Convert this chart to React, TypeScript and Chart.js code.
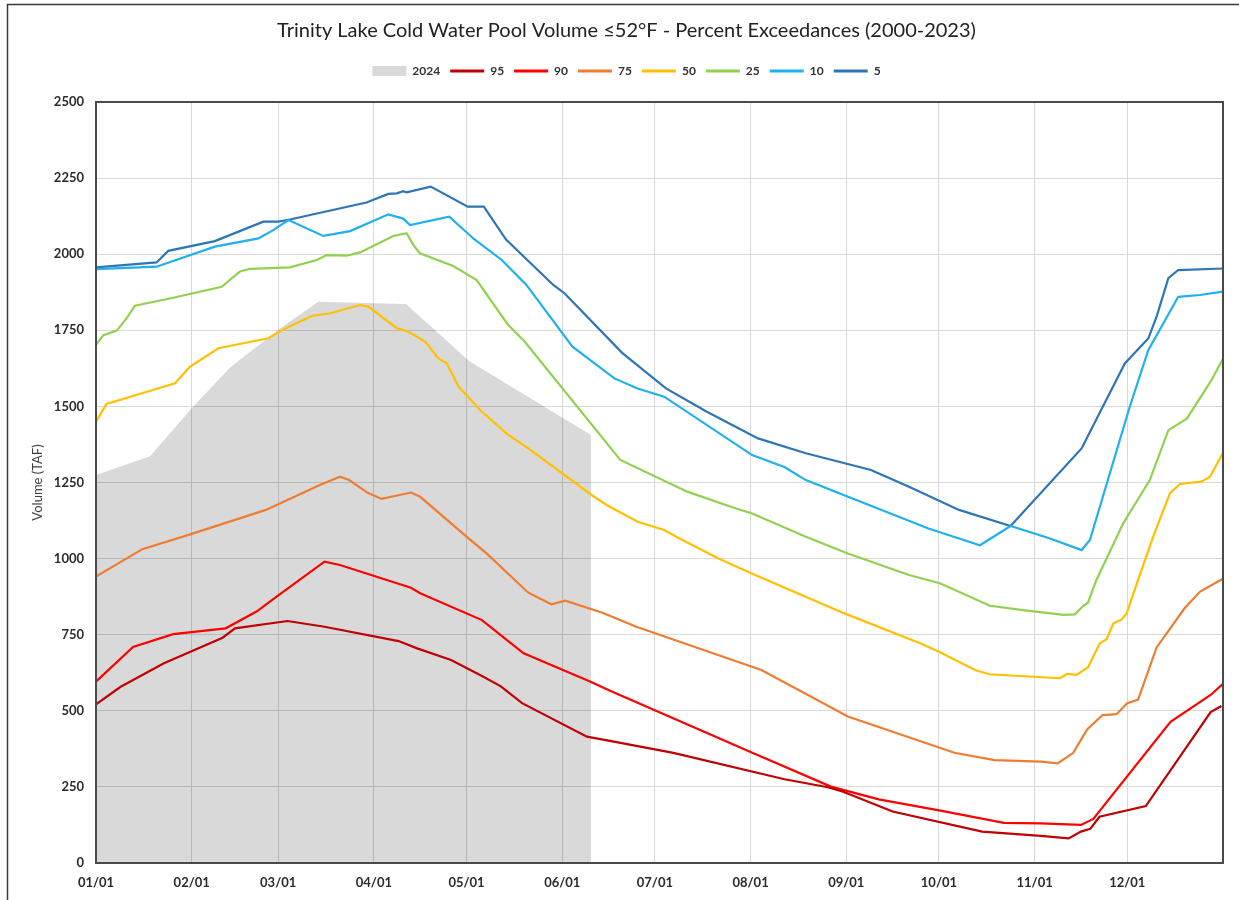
import React, { useEffect, useRef } from 'react';
import { Chart, registerables } from 'chart.js';

Chart.register(...registerables);

// ---- Data (day of year, TAF) ----
const monthStartDays = [0, 31, 59, 90, 120, 151, 181, 212, 243, 273, 304, 334];
const monthLabels = ['01/01', '02/01', '03/01', '04/01', '05/01', '06/01', '07/01', '08/01', '09/01', '10/01', '11/01', '12/01'];

const y2024: [number, number][] = [
  [0, 1275], [17.5, 1336], [31, 1494], [43.4, 1628], [59.6, 1756], [72, 1844], [100.4, 1836],
  [110.3, 1746], [114.6, 1707], [120.7, 1650], [160.3, 1406],
];

const p95: [number, number][] = [
  [0, 521], [8, 579], [22, 656], [41, 740], [45, 771], [62, 795], [74, 776], [98, 729], [104, 705],
  [115, 667], [125, 614], [131, 581], [138, 525], [159, 415], [166, 402], [187, 362], [223, 275],
  [237, 249], [242, 234], [258, 169], [287, 103], [306, 89], [315, 81], [319, 103], [322, 112],
  [325, 152], [340, 187], [361, 496], [364.5, 516],
];

const p90: [number, number][] = [
  [0, 596], [12, 710], [25, 752], [42, 771], [52, 826], [58.5, 875], [74, 990], [79, 979], [102, 904],
  [105, 886], [125, 798], [133, 733], [138.5, 689], [160, 596], [166.5, 566], [212, 365], [238, 251],
  [253.5, 209], [273.5, 172], [294, 132], [306, 130], [319, 125], [323, 145], [348, 464], [361, 552],
  [364.8, 587],
];

const p75: [number, number][] = [
  [0, 941], [15, 1031], [30, 1078], [55, 1160], [72.5, 1242], [79, 1269], [82, 1258], [88, 1216],
  [92.5, 1196], [102, 1217], [105, 1203], [120, 1072], [126.5, 1017], [140, 888], [147.5, 850],
  [152, 862], [164, 822], [175, 776], [215.5, 634], [243.5, 481], [278, 362], [291, 338], [306, 333],
  [311.5, 327], [313, 338], [316.5, 362], [321, 439], [326, 486], [330.5, 489], [334, 525],
  [337.5, 537], [343.5, 708], [352.5, 836], [357.5, 891], [364.8, 933],
];

const p50: [number, number][] = [
  [0, 1450], [3.4, 1508], [25.6, 1576], [30.4, 1630], [39.6, 1691], [55.8, 1724], [60.7, 1753],
  [69.8, 1797], [75.8, 1806], [85.5, 1833], [88.2, 1828], [97.4, 1757], [101.2, 1745], [106.6, 1713],
  [110.9, 1658], [113.6, 1642], [117.4, 1565], [124.7, 1485], [133.6, 1406], [140.7, 1357],
  [160.5, 1209], [165.4, 1176], [175.4, 1121], [184, 1094], [189, 1066], [201.4, 1001], [212.2, 952],
  [242.4, 820], [266.9, 722], [273, 694], [284.7, 634], [289.3, 620], [312.2, 607], [314.5, 621],
  [317.6, 618], [321.3, 643], [325.1, 722], [327.3, 735], [329.5, 787], [332.2, 800], [333.8, 820],
  [337.5, 930], [342.4, 1072], [347.8, 1214], [351, 1245], [358, 1253], [360.8, 1269], [364.9, 1346],
];

const p25: [number, number][] = [
  [0, 1702], [2.4, 1734], [6.7, 1749], [9.9, 1789], [12.6, 1831], [25, 1857], [40.7, 1893],
  [46.6, 1943], [49.9, 1952], [62.8, 1957], [71.5, 1981], [74.7, 1997], [81.2, 1995], [85.5, 2006],
  [96.3, 2060], [100.6, 2069], [102.8, 2030], [104.9, 2003], [115.7, 1961], [123.3, 1915],
  [133.3, 1770], [138.8, 1713], [169.8, 1324], [191.5, 1220], [206.3, 1168], [212.5, 1148],
  [229.9, 1072], [243.5, 1017], [263.3, 946], [273.3, 919], [289.5, 845], [300.3, 831], [313.3, 815],
  [317, 817], [319.8, 845], [321.3, 856], [324, 930], [332.7, 1116], [341.3, 1258], [347.3, 1422],
  [353.3, 1460], [361.3, 1587], [364.9, 1655],
];

const p10: [number, number][] = [
  [0, 1951], [19.6, 1959], [38.5, 2025], [52.6, 2052], [57.4, 2079], [62.3, 2112], [73.6, 2060],
  [82.3, 2076], [94.7, 2131], [99.5, 2117], [101.7, 2096], [114.4, 2123], [122.4, 2050],
  [131.4, 1981], [139.4, 1899], [154.3, 1696], [167.9, 1592], [175.4, 1559], [184, 1532],
  [212.5, 1340], [223.1, 1300], [229.9, 1258], [244.8, 1198], [269.6, 1099], [279.5, 1066],
  [286.3, 1044], [296.2, 1107], [309, 1066], [319.2, 1028], [321.9, 1061], [334.8, 1499],
  [340.8, 1685], [350.5, 1860], [357.5, 1866], [364.9, 1877],
];

const p5: [number, number][] = [
  [0, 1957], [19.6, 1973], [23.4, 2011], [38.5, 2043], [54.2, 2107], [59, 2107], [62.8, 2114],
  [87.6, 2170], [94.7, 2198], [97.4, 2200], [99.5, 2207], [100.6, 2203], [108.4, 2222],
  [120.4, 2156], [125.6, 2156], [132.8, 2048], [148.1, 1899], [151.8, 1871], [170.4, 1676],
  [184.6, 1559], [197.7, 1483], [214.4, 1395], [229.9, 1346], [251, 1291], [263.3, 1236],
  [279.5, 1160], [296.2, 1107], [319.2, 1362], [333.2, 1641], [340.8, 1723], [343.5, 1795],
  [347.3, 1921], [350.5, 1948], [364.9, 1953],
];

const seriesLabels = ['2024', '95', '90', '75', '50', '25', '10', '5'];
const seriesData = [y2024, p95, p90, p75, p50, p25, p10, p5];
const seriesColors = ['#d9d9d9', '#c00000', '#ff0000', '#ed7d31', '#ffc000', '#92d050', '#1fb0ee', '#2e75b6'];

const titleText = 'Trinity Lake Cold Water Pool Volume \u226452\u00b0F - Percent Exceedances (2000-2023)';
const yAxisTitle = 'Volume (TAF)';
const yMax = 2500;
const yStep = 250;

const FONT = 'Lato, "DejaVu Sans", sans-serif';

const framePlugin = {
  id: 'frames',
  afterDatasetsDraw(chart: any) {
    const { ctx, chartArea } = chart;
    const { left, top, right, bottom } = chartArea;
    ctx.save();
    ctx.strokeStyle = '#4a4a4a';
    ctx.lineWidth = 2;
    ctx.strokeRect(left, top, right - left, bottom - top);
    ctx.restore();
  },
  afterDraw(chart: any) {
    const { ctx } = chart;
    ctx.save();
    ctx.strokeStyle = '#3a3a3a';
    ctx.lineWidth = 1.5;
    ctx.beginPath();
    ctx.moveTo(7.5, 2000);
    ctx.lineTo(7.5, 4.5);
    ctx.lineTo(2000, 4.5);
    ctx.stroke();
    ctx.restore();
  },
};

export default function App() {
  const canvasRef = useRef<HTMLCanvasElement | null>(null);

  useEffect(() => {
    const canvas = canvasRef.current;
    if (!canvas) return;

    const datasets = seriesData.map((pts, i) => {
      const isArea = i === 0;
      return {
        label: seriesLabels[i],
        data: pts.map(([x, y]) => ({ x, y })),
        borderColor: isArea ? 'rgba(0,0,0,0)' : seriesColors[i],
        backgroundColor: isArea ? 'rgba(0,0,0,0.15)' : seriesColors[i],
        borderWidth: isArea ? 0 : 2.2,
        fill: isArea ? 'origin' : false,
        pointRadius: 0,
        pointHoverRadius: 0,
        tension: 0,
      };
    });

    const tickFont = { family: FONT, size: 13, weight: 'bold' as const };
    const tickColor = '#2b2b2b';

    const chart = new Chart(canvas, {
      type: 'line',
      data: { datasets },
      options: {
        responsive: false,
        animation: false,
        devicePixelRatio: 1,
        layout: { padding: { left: 30, right: 16, top: 0, bottom: 0 } },
        plugins: {
          filler: { drawTime: 'beforeDatasetsDraw' } as any,
          tooltip: { enabled: false },
          title: {
            display: true,
            text: titleText,
            color: '#222222',
            font: { family: FONT, size: 20, weight: 'normal' },
            padding: { top: 19, bottom: 12 },
          },
          subtitle: {
            display: true,
            text: '',
            weight: 500,
            font: { size: 1, lineHeight: 1 },
            padding: { top: 0, bottom: 14 },
          } as any,
          legend: {
            display: true,
            position: 'top',
            align: 'center',
            labels: {
              usePointStyle: true,
              pointStyleWidth: 34,
              boxHeight: 10,
              padding: 10,
              color: '#333333',
              font: { family: FONT, size: 12, weight: 'bold' },
              generateLabels: (c: any) =>
                c.data.datasets.map((ds: any, i: number) => ({
                  text: ds.label,
                  fillStyle: seriesColors[i],
                  strokeStyle: seriesColors[i],
                  lineWidth: i === 0 ? 0 : 3,
                  pointStyle: i === 0 ? 'rect' : 'line',
                  hidden: false,
                  datasetIndex: i,
                  fontColor: '#333333',
                })),
            },
          },
        },
        scales: {
          x: {
            type: 'linear',
            min: 0,
            max: 365,
            afterBuildTicks: (scale: any) => {
              scale.ticks = monthStartDays.map((v) => ({ value: v }));
            },
            afterFit: (scale: any) => {
              scale.height = 37;
            },
            grid: { color: '#d9d9d9', lineWidth: 1, drawTicks: false },
            border: { display: false },
            ticks: {
              autoSkip: false,
              maxRotation: 0,
              minRotation: 0,
              padding: 12,
              color: tickColor,
              font: tickFont,
              callback: (_v: any, i: number) => monthLabels[i],
            },
          },
          y: {
            type: 'linear',
            min: 0,
            max: yMax,
            afterFit: (scale: any) => {
              scale.width = 66;
            },
            grid: { color: '#d9d9d9', lineWidth: 1, drawTicks: false },
            border: { display: false },
            ticks: {
              stepSize: yStep,
              padding: 12,
              color: tickColor,
              font: tickFont,
              callback: (v: any) => String(v),
            },
            title: {
              display: true,
              text: yAxisTitle,
              color: '#404040',
              font: { family: FONT, size: 13, weight: 'normal' },
              padding: { top: 0, bottom: 0 },
            },
          },
        },
      } as any,
      plugins: [framePlugin],
    });

    return () => chart.destroy();
  }, []);

  return (
    <div style={{ position: 'fixed', left: 0, top: 0, width: 1239, height: 900, background: '#ffffff' }}>
      <canvas ref={canvasRef} width={1239} height={900} style={{ display: 'block', width: 1239, height: 900 }} />
    </div>
  );
}
